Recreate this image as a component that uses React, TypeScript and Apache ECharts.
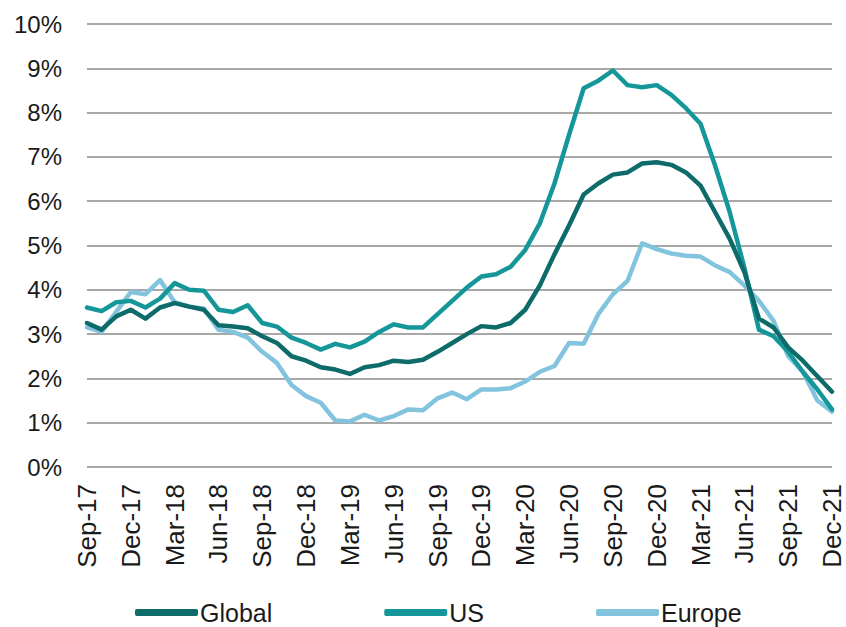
import React, { useEffect, useRef } from "react";
import * as echarts from "echarts";

const months = [
  "Sep-17","Oct-17","Nov-17","Dec-17","Jan-18","Feb-18","Mar-18","Apr-18","May-18","Jun-18","Jul-18","Aug-18",
  "Sep-18","Oct-18","Nov-18","Dec-18","Jan-19","Feb-19","Mar-19","Apr-19","May-19","Jun-19","Jul-19","Aug-19",
  "Sep-19","Oct-19","Nov-19","Dec-19","Jan-20","Feb-20","Mar-20","Apr-20","May-20","Jun-20","Jul-20","Aug-20",
  "Sep-20","Oct-20","Nov-20","Dec-20","Jan-21","Feb-21","Mar-21","Apr-21","May-21","Jun-21","Jul-21","Aug-21",
  "Sep-21","Oct-21","Nov-21","Dec-21"
];

const globalValues = [
  3.25, 3.1, 3.4, 3.55, 3.35, 3.6, 3.7, 3.62, 3.55, 3.2, 3.17, 3.13,
  2.95, 2.8, 2.5, 2.4, 2.25, 2.2, 2.1, 2.25, 2.3, 2.4, 2.37, 2.42,
  2.6, 2.8, 3.0, 3.18, 3.15, 3.25, 3.55, 4.1, 4.8, 5.45, 6.15, 6.4,
  6.6, 6.65, 6.85, 6.88, 6.82, 6.65, 6.35, 5.75, 5.15, 4.4, 3.35, 3.15,
  2.7, 2.4, 2.05, 1.7
];

const usValues = [
  3.6, 3.52, 3.72, 3.75, 3.6, 3.8, 4.15, 4.0, 3.98, 3.55, 3.5, 3.65,
  3.25, 3.17, 2.92, 2.8, 2.65, 2.78, 2.7, 2.83, 3.05, 3.22, 3.15, 3.15,
  3.45, 3.75, 4.05, 4.3, 4.35, 4.52, 4.9, 5.5, 6.4, 7.5, 8.55, 8.72,
  8.95, 8.62, 8.57, 8.62, 8.4, 8.1, 7.75, 6.8, 5.75, 4.5, 3.1, 2.95,
  2.6, 2.15, 1.75, 1.3
];

const europeValues = [
  3.15, 3.05, 3.5, 3.95, 3.9, 4.22, 3.72, 3.62, 3.58, 3.1, 3.05, 2.92,
  2.6, 2.35, 1.85, 1.6, 1.45, 1.05, 1.03, 1.18, 1.05, 1.15, 1.3, 1.28,
  1.55, 1.68, 1.53, 1.75, 1.75, 1.78, 1.93, 2.15, 2.28, 2.8, 2.78, 3.45,
  3.9, 4.2, 5.05, 4.92, 4.82, 4.77, 4.75, 4.55, 4.4, 4.1, 3.75, 3.3,
  2.5, 2.15, 1.5, 1.25
];

const seriesNames = ["Global", "US", "Europe"];
const seriesColors = ["#0d6b6a", "#15979a", "#82c4dd"];

export default function App() {
  const ref = useRef<HTMLDivElement>(null);

  useEffect(() => {
    if (!ref.current) return;
    const chart = echarts.init(ref.current, undefined, { renderer: "svg" });
    const font = "'Liberation Sans', Arial, sans-serif";
    const data = [globalValues, usValues, europeValues];
    chart.setOption({
      animation: false,
      backgroundColor: "#ffffff",
      grid: { left: 87, right: 14, top: 24, bottom: 160, containLabel: false },
      legend: {
        left: 130,
        top: 595,
        itemGap: 112,
        itemWidth: 63,
        itemHeight: 7,
        icon: "roundRect",
        textStyle: { fontFamily: font, fontSize: 25, color: "#1a1a1a", padding: [0, 0, 0, -3] },
        data: seriesNames,
      },
      xAxis: {
        type: "category",
        data: months,
        boundaryGap: false,
        axisLine: { show: false },
        axisTick: { show: false },
        axisLabel: {
          interval: 2,
          rotate: 90,
          margin: 17,
          fontFamily: font,
          fontSize: 26,
          color: "#1a1a1a",
        },
      },
      yAxis: {
        type: "value",
        min: 0,
        max: 10,
        interval: 1,
        axisLine: { show: false },
        axisTick: { show: false },
        splitLine: { lineStyle: { color: "#a8a8a8", width: 2 } },
        axisLabel: {
          formatter: "{value}%",
          margin: 25,
          fontFamily: font,
          fontSize: 24,
          color: "#1a1a1a",
        },
      },
      series: seriesNames.map((name, k) => ({
        name,
        type: "line",
        data: data[k],
        showSymbol: false,
        symbol: "none",
        lineStyle: { color: seriesColors[k], width: 4.5, cap: "round", join: "round" },
        itemStyle: { color: seriesColors[k] },
        z: 3 - k,
      })),
    });
    return () => chart.dispose();
  }, []);

  return (
    <div
      ref={ref}
      style={{ position: "fixed", left: 0, top: 0, width: 846, height: 627 }}
    />
  );
}
